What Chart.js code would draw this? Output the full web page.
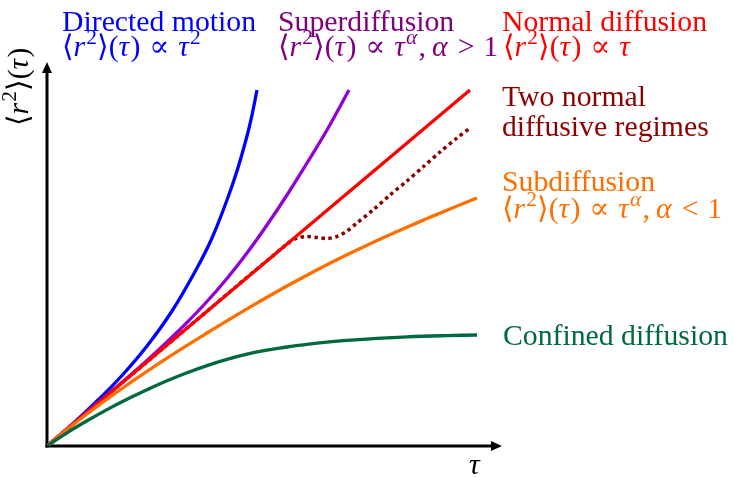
<!DOCTYPE html>
<html><head><meta charset="utf-8">
<script src="https://cdn.jsdelivr.net/npm/chart.js@4"></script>
<style>html,body{margin:0;padding:0;background:#fff}</style>
</head><body>
<canvas id="c" width="734" height="477"></canvas>
<script>
// ---- data (arbitrary units) ----
const blueX   = [0,25,50,75,100,125,150,165,180,190,200,205,210];
const blueY   = [0,21.5,45,70.5,100,135,178,208,246,275,310,331,356];
const purpleX = [0,40,80,100,120,140,160,180,200,220,240,260,280,302];
const purpleY = [0,34,68,85.5,104,123.5,144.5,167.5,193,221,251,283,316,356];
const redX    = [0,423];
const redY    = [0,356];
const twoX    = [0,120,240,250,260,270,280,290,300,310,326,343,360,376,393,410,423];
const twoY    = [0,101,202,208,209.5,208.5,207.5,209.5,215,223,236,251,265,279,294,308,318];
const orangeX = [0,20,40,60,80,100,120,140,160,180,200,220,240,260,280,300,320,340,360,380,400,430];
const orangeY = [0,16.4,32,46.8,61,74.6,87.8,100.6,113,125.2,137.2,148.8,160,170.8,181.2,191.2,200.8,210,218.8,227.4,235.8,248];
const greenX  = [0,20,40,60,80,100,120,140,160,180,200,220,240,260,280,300,330,360,400,430];
const greenY  = [0,13.2,25.2,36.4,46.8,56.2,65.2,73.2,80.4,86.6,91.8,95.8,99,101.6,103.8,105.6,107.7,109.2,110.4,111];

const seriesNames = ["Directed motion","Superdiffusion","Normal diffusion","Two normal diffusive regimes","Subdiffusion","Confined diffusion"];
const titleLines  = ["Directed motion","Superdiffusion","Normal diffusion","Two normal","diffusive regimes","Subdiffusion","Confined diffusion"];
const formulas    = ["⟨r^2⟩(τ) ∝ τ^2","⟨r^2⟩(τ) ∝ τ^α,α > 1","⟨r^2⟩(τ) ∝ τ","⟨r^2⟩(τ) ∝ τ^α,α < 1"];
const xAxisLabel  = "τ";
const yAxisLabel  = "⟨r^2⟩(τ)";

const C = {blue:"#0000ff", purple:"#9400d3", purpleText:"#800080", red:"#ff0000",
           dark:"#8b0000", orange:"#ff6f00", green:"#00693e"};

const pts = (xs,ys)=>xs.map((x,i)=>({x:x,y:ys[i]}));
const FONT = '"Liberation Serif","DejaVu Serif",serif';

// fit base font size to the reference width of "Confined diffusion"
const mctx = document.createElement('canvas').getContext('2d');
mctx.font = '24px '+FONT;
const BASE = 24*225/mctx.measureText(titleLines[6]).width;

function parseMath(s){
  const segs=[]; const italic="rτα";
  for(let i=0;i<s.length;i++){
    let ch=s[i], sup=false;
    if(ch===' '){ segs.push({space:0.3}); continue; }
    if(ch===','){ segs.push({t:',',it:false,sup:false}); segs.push({space:0.2}); continue; }
    if(ch==='^'){ sup=true; ch=s[++i]; }
    const it = italic.includes(ch);
    const last = segs[segs.length-1];
    if(last && !last.space && last.t!==',' && last.it===it && last.sup===sup && !sup) last.t+=ch;
    else segs.push({t:ch,it:it,sup:sup});
  }
  return segs;
}
function drawMath(ctx,x,y,str,size,color){
  let cx=x;
  ctx.fillStyle=color; ctx.textBaseline='alphabetic'; ctx.textAlign='left';
  for(const s of parseMath(str)){
    if(s.space){ cx+=size*s.space; continue; }
    const sz = s.sup? size*0.72 : size;
    ctx.font=(s.it?'italic ':'')+sz.toFixed(2)+'px '+FONT;
    ctx.fillText(s.t,cx,s.sup? y-size*0.42 : y);
    cx+=ctx.measureText(s.t).width + (s.it? size*0.04:0);
  }
  return cx-x;
}
function drawText(ctx,x,y,str,size,color){
  ctx.fillStyle=color; ctx.textBaseline='alphabetic'; ctx.textAlign='left';
  ctx.font=size.toFixed(2)+'px '+FONT;
  ctx.fillText(str,x,y);
}

const axesPlugin = {
  id:'axesArrows',
  beforeDatasetsDraw(chart){
    const ctx=chart.ctx, xs=chart.scales.x, ys=chart.scales.y;
    const x0=xs.getPixelForValue(0), y0=ys.getPixelForValue(0);
    const xr=xs.getPixelForValue(xs.max), yt=ys.getPixelForValue(ys.max);
    ctx.save();
    ctx.strokeStyle='#000'; ctx.fillStyle='#000'; ctx.lineWidth=3; ctx.lineCap='butt';
    ctx.beginPath(); ctx.moveTo(x0-1.5,y0); ctx.lineTo(xr-8,y0); ctx.stroke();
    ctx.beginPath(); ctx.moveTo(x0,y0+1.5); ctx.lineTo(x0,yt+8); ctx.stroke();
    ctx.beginPath(); ctx.moveTo(xr,y0); ctx.lineTo(xr-11,y0-5); ctx.lineTo(xr-11,y0+5); ctx.closePath(); ctx.fill();
    ctx.beginPath(); ctx.moveTo(x0,yt); ctx.lineTo(x0-5,yt+11); ctx.lineTo(x0+5,yt+11); ctx.closePath(); ctx.fill();
    ctx.restore();
  },
  afterDraw(chart){
    const ctx=chart.ctx; const s=BASE;
    ctx.save();
    drawText(ctx,62,31,titleLines[0],s,C.blue);
    drawMath(ctx,62,56,formulas[0],s,C.blue);
    drawText(ctx,278,31,titleLines[1],s,C.purpleText);
    drawMath(ctx,278,56,formulas[1],s,C.purpleText);
    drawText(ctx,502,31,titleLines[2],s,C.red);
    drawMath(ctx,503,56,formulas[2],s,C.red);
    drawText(ctx,502,106,titleLines[3],s,C.dark);
    drawText(ctx,502,136,titleLines[4],s,C.dark);
    drawText(ctx,502,191,titleLines[5],s,C.orange);
    drawMath(ctx,502,218,formulas[3],s,C.orange);
    drawText(ctx,503,345,titleLines[6],s,C.green);
    drawMath(ctx,469,474,xAxisLabel,s,'#000');
    ctx.translate(28,126); ctx.rotate(-Math.PI/2);
    drawMath(ctx,0,0,yAxisLabel,s,'#000');
    ctx.restore();
  }
};

const line = (label,xs,ys,color,extra)=>Object.assign({
  label:label, data:pts(xs,ys), borderColor:color, backgroundColor:color,
  borderWidth:3.3, pointRadius:0, fill:false, tension:0.4,
  borderCapStyle:'butt'
}, extra||{});

new Chart(document.getElementById('c'),{
  type:'line',
  data:{datasets:[
    line(seriesNames[5],greenX,greenY,C.green),
    line(seriesNames[4],orangeX,orangeY,C.orange),
    line(seriesNames[2],redX,redY,C.red),
    line(seriesNames[1],purpleX,purpleY,C.purple),
    line(seriesNames[0],blueX,blueY,C.blue),
    line(seriesNames[3],twoX,twoY,C.dark,{borderDash:[3.5,3.5],borderWidth:3.5,tension:0.3})
  ]},
  options:{
    responsive:false, animation:false, devicePixelRatio:1,
    layout:{padding:{left:47,right:232,top:62,bottom:31}},
    plugins:{legend:{display:false},tooltip:{enabled:false}},
    scales:{
      x:{type:'linear',min:0,max:455,display:false},
      y:{type:'linear',min:0,max:384,display:false}
    }
  },
  plugins:[axesPlugin]
});
</script>
</body></html>
